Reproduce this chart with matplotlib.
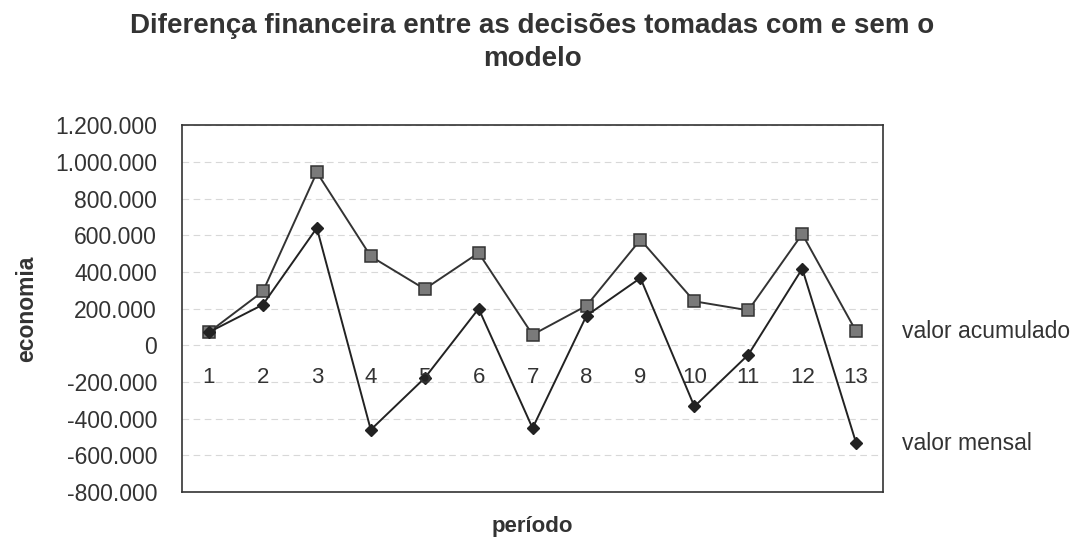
import matplotlib
matplotlib.use("Agg")
import matplotlib.pyplot as plt
from matplotlib.ticker import FuncFormatter, MultipleLocator

plt.rcParams['font.family'] = ['Liberation Sans', 'DejaVu Sans']

# valores
periodos = list(range(1, 14))
valor_acumulado = [72000, 294000, 943000, 485000, 307000, 504000, 58000,
                   216000, 576000, 240000, 191000, 607000, 76000]
valor_mensal = [72000, 222000, 640000, -460000, -178000, 200000, -451000,
                162000, 367000, -333000, -51000, 418000, -533000]
series_nomes = ['valor acumulado', 'valor mensal']

fig = plt.figure(figsize=(10.77, 5.42), dpi=100)
ax = fig.add_axes([0.169, 0.092, 0.651, 0.677])

ax.plot(periodos, valor_acumulado, color='#333333', lw=1.4, marker='s', ms=8,
        markerfacecolor='#7a7a7a', markeredgecolor='#333333', markeredgewidth=1.1, zorder=3)
ax.plot(periodos, valor_mensal, color='#222222', lw=1.4, marker='D', ms=6.5,
        markerfacecolor='#222222', markeredgecolor='#222222', zorder=3)

ax.set_xlim(0.5, 13.5)
ax.set_ylim(-800000, 1200000)
ax.yaxis.set_major_locator(MultipleLocator(200000))
ax.yaxis.set_major_formatter(FuncFormatter(lambda v, p: f"{int(v):,}".replace(',', '.')))
ax.grid(axis='y', color='#d8d8d8', lw=0.8, ls=(0, (6, 4)))
ax.set_axisbelow(True)
ax.tick_params(axis='y', length=0, pad=18, labelsize=16.5, labelcolor='#333333')
ax.set_xticks([])

for s in ax.spines.values():
    s.set_color('#333333')
    s.set_linewidth(1.2)

# rotulos das categorias ao longo do eixo em zero
for p in periodos:
    ax.annotate(str(p), (p, 0), xytext=(0, -23), textcoords='offset points',
                ha='center', va='center', fontsize=16, color='#333333')

# nomes das series junto ao ultimo ponto
ax.annotate(series_nomes[0], (periodos[-1], valor_acumulado[-1]), xytext=(33, 0),
            textcoords='offset points', ha='left', va='center', fontsize=16.5,
            color='#333333', annotation_clip=False)
ax.annotate(series_nomes[1], (periodos[-1], valor_mensal[-1]), xytext=(33, 0),
            textcoords='offset points', ha='left', va='center', fontsize=16.5,
            color='#333333', annotation_clip=False)

ax.set_ylabel('economia', fontsize=16.5, fontweight='bold', color='#333333', labelpad=12)
fig.text(0.494, 0.028, 'período', ha='center', va='center', fontsize=16,
         fontweight='bold', color='#333333')
fig.text(0.494, 0.952, 'Diferença financeira entre as decisões tomadas com e sem o',
         ha='center', va='center', fontsize=20, fontweight='bold', color='#333333')
fig.text(0.494, 0.891, 'modelo', ha='center', va='center', fontsize=20,
         fontweight='bold', color='#333333')

fig.savefig('out.png', dpi=100)
